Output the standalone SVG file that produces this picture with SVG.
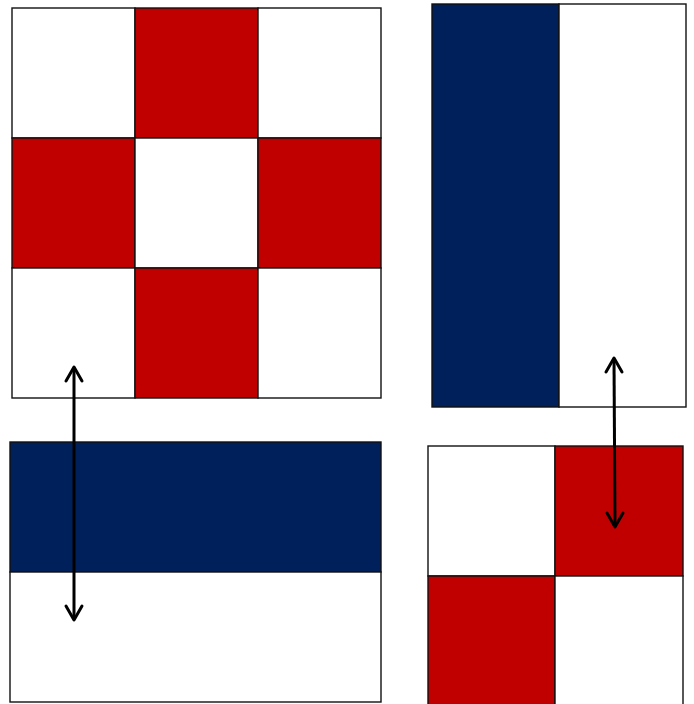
<svg xmlns="http://www.w3.org/2000/svg" width="694" height="704" viewBox="0 0 694 704">
<style>
.r{fill:#c00000;stroke:#111;stroke-width:1.4}
.w{fill:#fff;stroke:#111;stroke-width:1.4}
.b{fill:#00205b;stroke:#111;stroke-width:1.4}
.a{stroke:#000;stroke-width:3;fill:none}
.h{stroke:#000;stroke-width:3;fill:none;stroke-linecap:round;stroke-linejoin:round}
</style>
<rect width="694" height="704" fill="#fff"/>
<g id="flag-checker3">
<rect class="w" x="12" y="8" width="123" height="130"/>
<rect class="r" x="135" y="8" width="123" height="130"/>
<rect class="w" x="258" y="8" width="123" height="130"/>
<rect class="r" x="12" y="138" width="123" height="130"/>
<rect class="w" x="135" y="138" width="123" height="130"/>
<rect class="r" x="258" y="138" width="123" height="130"/>
<rect class="w" x="12" y="268" width="123" height="130"/>
<rect class="r" x="135" y="268" width="123" height="130"/>
<rect class="w" x="258" y="268" width="123" height="130"/>
</g>
<g id="flag-vertical">
<rect class="b" x="432" y="4" width="127" height="403"/>
<rect class="w" x="559" y="4" width="127" height="403"/>
</g>
<g id="flag-horizontal">
<rect class="b" x="10" y="442" width="371" height="130"/>
<rect class="w" x="10" y="572" width="371" height="130"/>
</g>
<g id="flag-checker2">
<rect class="w" x="428" y="446" width="127" height="130"/>
<rect class="r" x="555" y="446" width="128" height="130"/>
<rect class="r" x="428" y="576" width="127" height="130"/>
<rect class="w" x="555" y="576" width="128" height="130"/>
</g>
<g id="connectors">
<line class="a" x1="74" y1="368" x2="74" y2="619"/>
<polyline class="h" points="66,381 74,367 82,381"/>
<polyline class="h" points="66,606 74,620 82,606"/>
<line class="a" x1="614" y1="359" x2="615" y2="526"/>
<polyline class="h" points="606,372 614,358 622,372"/>
<polyline class="h" points="607,513 615,527 623,513"/>
</g>
</svg>
